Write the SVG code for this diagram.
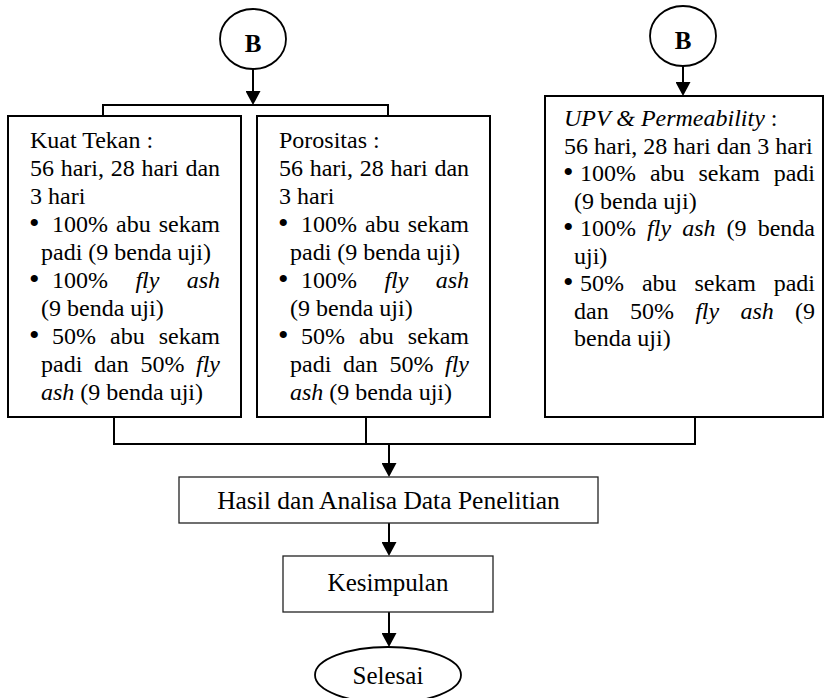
<svg xmlns="http://www.w3.org/2000/svg" width="837" height="698" viewBox="0 0 837 698">
<style>
  text { font-family: "Liberation Serif", "Times New Roman", serif; fill: #000; }
  .t { font-size: 24px; }
  .b { font-size: 30px; }
  .big { font-size: 25px; }
  .lbl { font-size: 25px; font-weight: bold; }
  .i { font-style: italic; }
  .box { fill: #fff; stroke: #000; stroke-width: 2; }
  .box2 { fill: #fff; stroke: #222; stroke-width: 1.3; }
  .circ { fill: #fff; stroke: #000; stroke-width: 1.8; }
  .conn { fill: none; stroke: #000; stroke-width: 2; }
</style>
<defs>
  <marker id="ah" markerUnits="userSpaceOnUse" markerWidth="14" markerHeight="15" refX="6" refY="7.5" orient="auto">
    <path d="M0,0 L14,7.5 L0,15 z" fill="#000"/>
  </marker>
</defs>

<g id="connectors">
  <line class="conn" x1="253" y1="69" x2="253" y2="97" marker-end="url(#ah)"/>
  <polyline class="conn" points="103,116 103,105 388,105 388,116"/>
  <line class="conn" x1="683" y1="66" x2="683" y2="88" marker-end="url(#ah)"/>
  <polyline class="conn" points="114,417 114,444 695,444 695,417"/>
  <line class="conn" x1="366" y1="417" x2="366" y2="444"/>
  <line class="conn" x1="389" y1="444" x2="389" y2="469" marker-end="url(#ah)"/>
  <line class="conn" x1="389" y1="523" x2="389" y2="548" marker-end="url(#ah)"/>
  <line class="conn" x1="389" y1="612" x2="389" y2="639" marker-end="url(#ah)"/>
</g>

<g id="nodeB1">
  <ellipse class="circ" cx="253" cy="39" rx="33" ry="30"/>
  <text class="lbl" x="253" y="52" text-anchor="middle">B</text>
</g>

<g id="nodeB2">
  <ellipse class="circ" cx="683" cy="36" rx="33" ry="30"/>
  <text class="lbl" x="683" y="49" text-anchor="middle">B</text>
</g>

<g id="kuatTekan">
  <rect class="box" x="8" y="116" width="233" height="301"/>
  <text class="t">
    <tspan x="30" y="148">Kuat Tekan :</tspan>
    <tspan x="30" y="176">56</tspan><tspan x="60.7" y="176">hari,</tspan><tspan x="110.7" y="176">28</tspan><tspan x="141.4" y="176">hari</tspan><tspan x="185.4" y="176">dan</tspan>
    <tspan x="30" y="204">3 hari</tspan>
    <tspan class="b" x="29" y="233">•</tspan><tspan x="52" y="232">100%</tspan><tspan x="116" y="232">abu</tspan><tspan x="158.7" y="232">sekam</tspan>
    <tspan x="41" y="260">padi (9 benda uji)</tspan>
    <tspan class="b" x="29" y="289">•</tspan><tspan x="52" y="288">100%</tspan><tspan class="i" x="135.4" y="288">fly</tspan><tspan class="i" x="186.7" y="288">ash</tspan>
    <tspan x="41" y="316">(9 benda uji)</tspan>
    <tspan class="b" x="29" y="345">•</tspan><tspan x="52" y="344">50%</tspan><tspan x="110" y="344">abu</tspan><tspan x="158.7" y="344">sekam</tspan>
    <tspan x="41" y="372">padi</tspan><tspan x="94" y="372">dan</tspan><tspan x="140.4" y="372">50%</tspan><tspan class="i" x="196" y="372">fly</tspan>
    <tspan class="i" x="41" y="400">ash</tspan><tspan> (9 benda uji)</tspan>
  </text>
</g>

<g id="porositas">
  <rect class="box" x="257" y="116" width="233" height="301"/>
  <text class="t">
    <tspan x="279" y="148">Porositas :</tspan>
    <tspan x="279" y="176">56</tspan><tspan x="309.7" y="176">hari,</tspan><tspan x="359.7" y="176">28</tspan><tspan x="390.4" y="176">hari</tspan><tspan x="434.4" y="176">dan</tspan>
    <tspan x="279" y="204">3 hari</tspan>
    <tspan class="b" x="278" y="233">•</tspan><tspan x="301" y="232">100%</tspan><tspan x="365" y="232">abu</tspan><tspan x="407.7" y="232">sekam</tspan>
    <tspan x="290" y="260">padi (9 benda uji)</tspan>
    <tspan class="b" x="278" y="289">•</tspan><tspan x="301" y="288">100%</tspan><tspan class="i" x="384.4" y="288">fly</tspan><tspan class="i" x="435.7" y="288">ash</tspan>
    <tspan x="290" y="316">(9 benda uji)</tspan>
    <tspan class="b" x="278" y="345">•</tspan><tspan x="301" y="344">50%</tspan><tspan x="359" y="344">abu</tspan><tspan x="407.7" y="344">sekam</tspan>
    <tspan x="290" y="372">padi</tspan><tspan x="343" y="372">dan</tspan><tspan x="389.4" y="372">50%</tspan><tspan class="i" x="445" y="372">fly</tspan>
    <tspan class="i" x="290" y="400">ash</tspan><tspan> (9 benda uji)</tspan>
  </text>
</g>

<g id="upv">
  <rect class="box" x="545" y="96" width="278" height="321"/>
  <text class="t">
    <tspan class="i" x="564" y="126">UPV &amp; Permeability</tspan><tspan> :</tspan>
    <tspan x="564" y="153.5">56 hari, 28 hari dan 3 hari</tspan>
    <tspan class="b" x="563" y="182">•</tspan><tspan x="580" y="181">100%</tspan><tspan x="649.9" y="181">abu</tspan><tspan x="698.5" y="181">sekam</tspan><tspan x="773.7" y="181">padi</tspan>
    <tspan x="574" y="208.5">(9 benda uji)</tspan>
    <tspan class="b" x="563" y="237">•</tspan><tspan x="580" y="236">100%</tspan><tspan class="i" x="647.1" y="236">fly</tspan><tspan class="i" x="682.2" y="236">ash</tspan><tspan x="726.6" y="236">(9</tspan><tspan x="757.7" y="236">benda</tspan>
    <tspan x="574" y="263.5">uji)</tspan>
    <tspan class="b" x="563" y="292">•</tspan><tspan x="580" y="291">50%</tspan><tspan x="641.9" y="291">abu</tspan><tspan x="694.5" y="291">sekam</tspan><tspan x="773.7" y="291">padi</tspan>
    <tspan x="574" y="318.5">dan</tspan><tspan x="630" y="318.5">50%</tspan><tspan class="i" x="695.2" y="318.5">fly</tspan><tspan class="i" x="740.5" y="318.5">ash</tspan><tspan x="795" y="318.5">(9</tspan>
    <tspan x="574" y="346">benda uji)</tspan>
  </text>
</g>

<g id="hasil">
  <rect class="box2" x="179" y="477" width="419" height="46"/>
  <text class="big" x="388.5" y="509" text-anchor="middle" style="font-size:25.5px">Hasil dan Analisa Data Penelitian</text>
</g>

<g id="kesimpulan">
  <rect class="box2" x="283" y="556" width="210" height="56"/>
  <text class="big" x="388" y="591" text-anchor="middle">Kesimpulan</text>
</g>

<g id="selesai">
  <ellipse class="circ" cx="388" cy="675" rx="73" ry="28"/>
  <text class="big" x="388" y="684" text-anchor="middle">Selesai</text>
</g>
</svg>
